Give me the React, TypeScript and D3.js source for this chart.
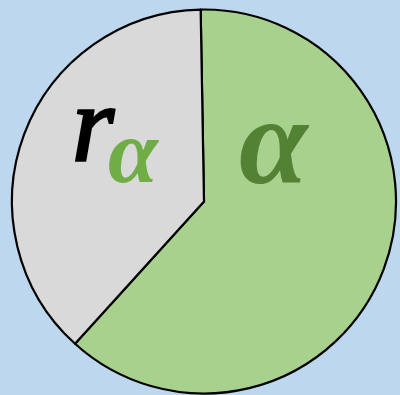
import React from "react";
import * as d3 from "d3";

const W = 400;
const H = 395;

// Slice shares: alpha (green) and the remainder r_alpha (grey)
const sliceNames = ["α", "rα"];
const sliceValues = [62, 38];
const sliceColors = ["#A9D18E", "#D9D9D9"];

export default function App() {
  const cx = 204;
  const cy = 201.5;
  const radius = 192;
  const start = (-1 * Math.PI) / 180;

  const pie = d3
    .pie<number>()
    .sort(null)
    .startAngle(start)
    .endAngle(start + 2 * Math.PI);
  const arcs = pie(sliceValues);
  const arc = d3.arc<d3.PieArcDatum<number>>().innerRadius(0).outerRadius(radius);

  const font = "'Liberation Serif', serif";

  return (
    <svg
      width={W}
      height={H}
      style={{ position: "absolute", left: 0, top: 0, display: "block" }}
    >
      <rect width={W} height={H} fill="#BDD7EE" />
      <g transform={`translate(${cx},${cy})`}>
        {arcs.map((a, i) => (
          <path
            key={sliceNames[i]}
            d={arc(a) || ""}
            fill={sliceColors[i]}
            stroke="#000"
            strokeWidth={2.2}
            strokeLinejoin="round"
          />
        ))}
      </g>
      {/* r with alpha subscript */}
      <text
        x={72}
        y={160}
        fontFamily={font}
        fontStyle="italic"
        fontWeight="normal"
        fontSize={108}
        fill="#000"
        stroke="#000"
        strokeWidth={2.5}
      >
        r
      </text>
      <text
        x={108}
        y={182}
        fontFamily={font}
        fontStyle="italic"
        fontWeight="bold"
        fontSize={90}
        fill="#70AD47"
      >
        α
      </text>
      {/* alpha */}
      <text
        x={239}
        y={183}
        fontFamily={font}
        fontStyle="italic"
        fontWeight="bold"
        fontSize={124}
        fill="#548235"
      >
        α
      </text>
    </svg>
  );
}
